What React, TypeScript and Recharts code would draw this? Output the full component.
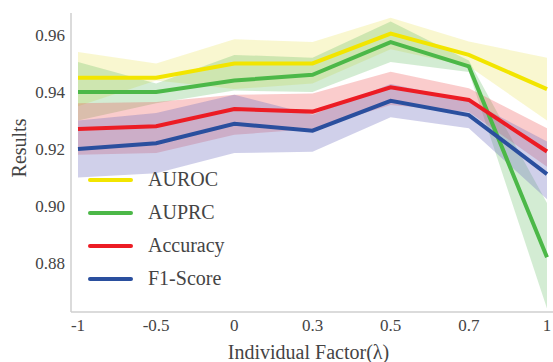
import React from "react";
import { ComposedChart, Line, Area, XAxis, YAxis } from "recharts";

const factors = ["-1", "-0.5", "0", "0.3", "0.5", "0.7", "1"];

const auroc = [0.945, 0.945, 0.95, 0.95, 0.9605, 0.953, 0.941];
const aurocLow = [0.935, 0.944, 0.941, 0.943, 0.955, 0.949, 0.93];
const aurocHigh = [0.954, 0.95, 0.9585, 0.9575, 0.966, 0.9577, 0.952];

const auprc = [0.94, 0.94, 0.944, 0.946, 0.9575, 0.949, 0.882];
const auprcLow = [0.93, 0.936, 0.9405, 0.94, 0.9505, 0.947, 0.864];
const auprcHigh = [0.9505, 0.943, 0.953, 0.952, 0.9647, 0.951, 0.901];

const accuracy = [0.927, 0.928, 0.934, 0.9331, 0.9416, 0.9372, 0.9191];
const accuracyLow = [0.918, 0.9186, 0.925, 0.927, 0.9354, 0.933, 0.9138];
const accuracyHigh = [0.936, 0.9365, 0.939, 0.9395, 0.9471, 0.9413, 0.9273];

const f1 = [0.92, 0.922, 0.9288, 0.9264, 0.9369, 0.9319, 0.9112];
const f1Low = [0.91, 0.9115, 0.9186, 0.919, 0.9311, 0.9273, 0.9024];
const f1High = [0.93, 0.9326, 0.939, 0.932, 0.9428, 0.937, 0.9226];

const yTicks = [0.88, 0.9, 0.92, 0.94, 0.96];

const series = [
  { key: "auroc", name: "AUROC", color: "#f2e500", band: "#e8e050", bandOpacity: 0.27 },
  { key: "auprc", name: "AUPRC", color: "#4cb848", band: "#5cb85c", bandOpacity: 0.27 },
  { key: "accuracy", name: "Accuracy", color: "#ec1c24", band: "#ee4444", bandOpacity: 0.27 },
  { key: "f1", name: "F1-Score", color: "#2a4f9e", band: "#7070c0", bandOpacity: 0.33 },
];

const chartData = factors.map((f, i) => ({
  factor: f,
  auroc: auroc[i],
  aurocBand: [aurocLow[i], aurocHigh[i]],
  auprc: auprc[i],
  auprcBand: [auprcLow[i], auprcHigh[i]],
  accuracy: accuracy[i],
  accuracyBand: [accuracyLow[i], accuracyHigh[i]],
  f1: f1[i],
  f1Band: [f1Low[i], f1High[i]],
}));

const FONT = "'Liberation Serif', 'Times New Roman', serif";
const TEXT = "#444444";
const FRAME = "#cfcfcf";

// legend sits inside the plot, lower left
const LegendBox = () => (
  <div
    style={{
      position: "absolute",
      left: 88,
      top: 163,
      fontFamily: FONT,
      fontSize: 20,
      color: TEXT,
    }}
  >
    {series.map((s) => (
      <div
        key={s.key}
        style={{ display: "flex", alignItems: "center", height: 33 }}
      >
        <div
          style={{
            width: 45,
            height: 4,
            borderRadius: 2,
            background: s.color,
            marginRight: 15,
          }}
        />
        <span>{s.name}</span>
      </div>
    ))}
  </div>
);

const YLabel = (props: any) => {
  const vb = props.viewBox || {};
  const x = vb.x + 26;
  const y = 148;
  return (
    <text
      x={x}
      y={y}
      transform={`rotate(-90, ${x}, ${y})`}
      textAnchor="middle"
      fill={TEXT}
      fontSize={20}
      fontFamily={FONT}
    >
      Results
    </text>
  );
};

const App = () => {
  return (
    <div
      style={{
        position: "fixed",
        left: 0,
        top: 0,
        width: 553,
        height: 362,
        overflow: "hidden",
        background: "#fff",
      }}
    >
      <ComposedChart
        width={570}
        height={362}
        data={chartData}
        margin={{ top: 13, right: 0, bottom: 0, left: 0 }}
      >
        <XAxis
          dataKey="factor"
          padding={{ left: 7, right: 23 }}
          height={50}
          tickLine={false}
          tickSize={0}
          tickMargin={7}
          axisLine={{ stroke: FRAME, strokeWidth: 1.5 }}
          tick={{ fill: TEXT, fontSize: 17, fontFamily: FONT }}
          label={{
            value: "Individual Factor(λ)",
            position: "insideBottom",
            offset: 3,
            dx: -12,
            fill: TEXT,
            fontSize: 20,
            fontFamily: FONT,
          }}
        />
        <XAxis
          xAxisId="top"
          dataKey="factor"
          orientation="top"
          height={0}
          tick={false}
          tickLine={false}
          axisLine={{ stroke: FRAME, strokeWidth: 1.5 }}
        />
        <YAxis
          width={71}
          domain={[0.8628, 0.9677]}
          ticks={yTicks}
          allowDataOverflow
          tickLine={false}
          tickSize={0}
          tickMargin={6}
          tickFormatter={(v: number) => v.toFixed(2)}
          axisLine={{ stroke: FRAME, strokeWidth: 1.5 }}
          tick={{ fill: TEXT, fontSize: 17, fontFamily: FONT }}
          label={<YLabel />}
        />
        {series.map((s) => (
          <Area
            key={s.key + "Band"}
            dataKey={s.key + "Band"}
            stroke="none"
            fill={s.band}
            fillOpacity={s.bandOpacity}
            legendType="none"
            isAnimationActive={false}
            activeDot={false}
          />
        ))}
        {series.map((s) => (
          <Line
            key={s.key}
            dataKey={s.key}
            name={s.name}
            stroke={s.color}
            strokeWidth={4}
            dot={false}
            activeDot={false}
            isAnimationActive={false}
          />
        ))}
      </ComposedChart>
      <LegendBox />
    </div>
  );
};

export default App;
